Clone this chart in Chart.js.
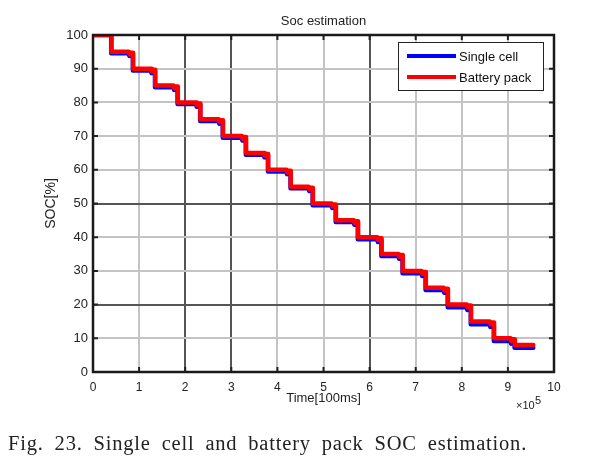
<!DOCTYPE html>
<html><head><meta charset="utf-8">
<script src="https://cdn.jsdelivr.net/npm/chart.js@4/dist/chart.umd.min.js"></script>
<style>
html,body{margin:0;padding:0;background:#fff;}
#wrap{position:relative;width:602px;height:467px;}
canvas{position:absolute;left:0;top:0;}
#cap{position:absolute;left:8px;top:432px;font-family:"Liberation Serif",serif;font-size:20.5px;color:#222;white-space:nowrap;letter-spacing:0.8px;word-spacing:5px;}
</style></head><body>
<div id="wrap"><canvas id="c" width="602" height="467"></canvas>
<div id="cap">Fig. 23. Single cell and battery pack SOC estimation.</div></div>
<script>
const chartTitle = 'Soc estimation';
const xTitle = 'Time[100ms]';
const yTitle = 'SOC[%]';
const seriesNames = ['Single cell', 'Battery pack'];
const seriesColors = ['#0000ff', '#ff0000'];
// time (100 ms units) where each step drop happens
const dropTimes = [40000, 87000, 135000, 184000, 233000, 282000, 332000, 380000, 429000, 477000, 527000, 575000, 626000, 672000, 722000, 770000, 820000, 870000, 915000];
const endTime = 955000;
// plateau SOC levels
const packLevels = [100, 95, 90, 85, 80, 75, 70, 65, 60, 55, 50, 45, 40, 35, 30, 25, 20, 15, 10, 8];
const cellLevels = [100, 94.6, 89.5, 84.5, 79.5, 74.5, 69.5, 64.5, 59.5, 54.5, 49.5, 44.5, 39.4, 34.4, 29.3, 24.3, 19.2, 14.2, 9.2, 7.2];
const notchLead = 9000;
const xTickLabels = [0, 1, 2, 3, 4, 5, 6, 7, 8, 9, 10];
const yTickLabels = [0, 10, 20, 30, 40, 50, 60, 70, 80, 90, 100];
const darkX = [2, 3, 6];
const darkY = [20, 50];

function staircase(levels, shift) {
  const pts = [];
  for (let i = 0; i < levels.length; i++) {
    const L = levels[i];
    const start = i === 0 ? 0 : dropTimes[i - 1] - shift;
    const end = i < dropTimes.length ? dropTimes[i] - shift : endTime;
    pts.push({x: start, y: L});
    if (i > 0 && i < dropTimes.length) {
      pts.push({x: end - notchLead, y: L});
      pts.push({x: end - notchLead + 1500, y: L - 0.8});
      pts.push({x: end - notchLead + 3500, y: L - 0.3});
      pts.push({x: end, y: L - 0.3});
    } else {
      pts.push({x: end, y: L});
    }
  }
  return pts;
}

const FONT = '"Liberation Sans", Arial, sans-serif';

const framePlugin = {
  id: 'frame',
  afterDraw(chart) {
    const {ctx, chartArea: a, scales: {x, y}} = chart;
    ctx.save();
    ctx.strokeStyle = '#222';
    ctx.lineWidth = 2;
    ctx.beginPath();
    xTickLabels.forEach(v => {
      const px = x.getPixelForValue(v * 1e5);
      ctx.moveTo(px, a.bottom); ctx.lineTo(px, a.bottom - 5);
      ctx.moveTo(px, a.top); ctx.lineTo(px, a.top + 5);
    });
    yTickLabels.forEach(v => {
      const py = y.getPixelForValue(v);
      ctx.moveTo(a.left, py); ctx.lineTo(a.left + 5, py);
      ctx.moveTo(a.right, py); ctx.lineTo(a.right - 5, py);
    });
    ctx.stroke();
    ctx.lineWidth = 2.5;
    ctx.strokeStyle = '#1a1a1a';
    ctx.strokeRect(a.left, a.top, a.right - a.left, a.bottom - a.top);
    ctx.fillStyle = '#222';
    ctx.font = '13px ' + FONT;
    ctx.textAlign = 'center';
    ctx.textBaseline = 'middle';
    ctx.fillText(chartTitle, (a.left + a.right) / 2, a.top - 14);
    ctx.textAlign = 'left';
    ctx.font = '11px ' + FONT;
    ctx.fillText('\u00d710', 516, 406);
    ctx.fillText('5', 535, 401);
    const lx = 398, ly = 42, lw = 145, lh = 48;
    ctx.fillStyle = '#fff';
    ctx.fillRect(lx, ly, lw, lh);
    ctx.lineWidth = 1;
    ctx.strokeStyle = '#222';
    ctx.strokeRect(lx + 0.5, ly + 0.5, lw, lh);
    ctx.font = '13px ' + FONT;
    ctx.textBaseline = 'middle';
    seriesNames.forEach((n, i) => {
      const yy = 56 + i * 21;
      ctx.strokeStyle = seriesColors[i];
      ctx.lineWidth = 4;
      ctx.beginPath(); ctx.moveTo(407, yy); ctx.lineTo(456, yy); ctx.stroke();
      ctx.fillStyle = '#111';
      ctx.fillText(n, 459, yy + 1);
    });
    ctx.restore();
  }
};

new Chart(document.getElementById('c'), {
  type: 'line',
  data: {
    datasets: [
      {label: seriesNames[0], data: staircase(cellLevels, 500), borderColor: seriesColors[0], borderWidth: 4.5, pointRadius: 0, fill: false, order: 2, borderJoinStyle: 'round', borderCapStyle: 'round'},
      {label: seriesNames[1], data: staircase(packLevels, 0), borderColor: seriesColors[1], borderWidth: 4.5, pointRadius: 0, fill: false, order: 1, borderJoinStyle: 'round', borderCapStyle: 'round'}
    ]
  },
  options: {
    responsive: false,
    animation: false,
    devicePixelRatio: 1,
    layout: {padding: {left: 0, right: 48, top: 35, bottom: 50}},
    plugins: {legend: {display: false}, tooltip: {enabled: false}, title: {display: false}},
    elements: {line: {tension: 0}},
    scales: {
      x: {
        type: 'linear', min: 0, max: 1000000,
        afterFit(s) { s.height = 45; },
        afterBuildTicks(s) { s.ticks = xTickLabels.map(v => ({value: v * 1e5})); },
        ticks: {callback: v => String(Math.round(v / 1e5)), padding: 8, color: '#222', maxRotation: 0, autoSkip: false, font: {family: FONT, size: 12}},
        grid: {color: c => darkX.includes(Math.round(c.tick.value / 1e5)) ? '#555' : '#c4c4c4', lineWidth: 2, drawTicks: false},
        border: {display: false},
        title: {display: true, text: xTitle, color: '#222', font: {family: FONT, size: 13}, padding: {top: 0, bottom: 11}}
      },
      y: {
        min: 0, max: 100,
        afterFit(s) { s.width = 93; },
        afterBuildTicks(s) { s.ticks = yTickLabels.map(v => ({value: v})); },
        ticks: {padding: 5, color: '#222', autoSkip: false, font: {family: FONT, size: 13}},
        grid: {color: c => darkY.includes(c.tick.value) ? '#555' : '#c4c4c4', lineWidth: 2, drawTicks: false},
        border: {display: false},
        title: {display: true, text: yTitle, color: '#222', font: {family: FONT, size: 14}, padding: {top: 43, bottom: 0}}
      }
    }
  },
  plugins: [framePlugin]
});
</script>
</body></html>
